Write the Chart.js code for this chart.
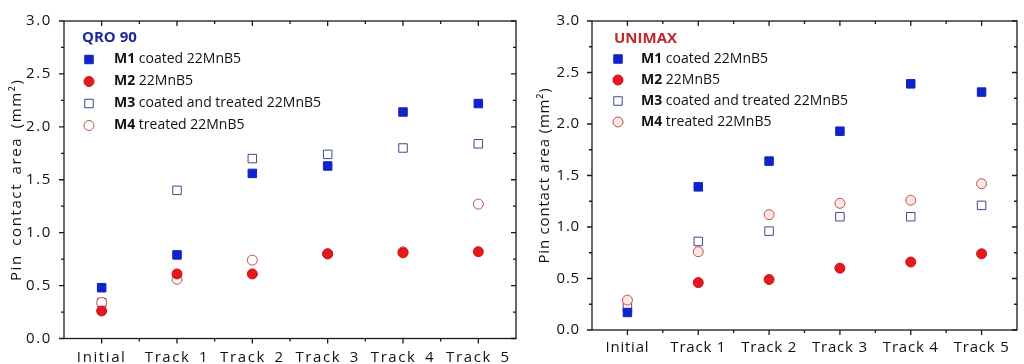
<!DOCTYPE html>
<html lang="en">
<head>
<meta charset="UTF-8">
<title>Pin contact area</title>
<script src="https://cdn.jsdelivr.net/npm/chart.js"></script>
<style>
  html, body { margin: 0; padding: 0; background: #fff; }
  #wrap { position: relative; width: 1024px; height: 364px; overflow: hidden; }
  .box { position: absolute; top: 0; height: 364px; }
  #boxL { left: 0; width: 528px; }
  #boxR { left: 528px; width: 496px; }
</style>
</head>
<body>
<div id="wrap">
  <div class="box" id="boxL"><canvas id="chartL"></canvas></div>
  <div class="box" id="boxR"><canvas id="chartR"></canvas></div>
</div>
<script>
const categories = ['Initial', 'Track 1', 'Track 2', 'Track 3', 'Track 4', 'Track 5'];
const seriesNames = ['M1', 'M2', 'M3', 'M4'];
const seriesDesc = ['coated 22MnB5', '22MnB5', 'coated and treated 22MnB5', 'treated 22MnB5'];

// QRO 90
const qroM1 = [0.48, 0.79, 1.56, 1.63, 2.14, 2.22];
const qroM2 = [0.26, 0.61, 0.61, 0.80, 0.81, 0.82];
const qroM3 = [0.34, 1.40, 1.70, 1.74, 1.80, 1.84];
const qroM4 = [0.34, 0.56, 0.74, 0.80, 0.82, 1.27];

// UNIMAX (M2 initial not visible in the figure)
const uniM1 = [0.17, 1.39, 1.64, 1.93, 2.39, 2.31];
const uniM2 = [null, 0.46, 0.49, 0.60, 0.66, 0.74];
const uniM3 = [0.22, 0.86, 0.96, 1.10, 1.10, 1.21];
const uniM4 = [0.29, 0.76, 1.12, 1.23, 1.26, 1.42];

const FONT = '"Open Sans", "Noto Sans", sans-serif';

function makeSets(m1, m2, m3, m4, openFill) {
  return [
    { label: 'M1', data: m1, pointStyle: 'rect', pointRadius: 6, backgroundColor: '#1023c9', borderColor: '#1023c9', borderWidth: 1, order: 1 },
    { label: 'M2', data: m2, pointStyle: 'circle', pointRadius: 5, backgroundColor: '#e3191e', borderColor: '#d01016', borderWidth: 1, order: 0 },
    { label: 'M3', data: m3, pointStyle: 'rect', pointRadius: 6, backgroundColor: '#ffffff', borderColor: '#3c4a8e', borderWidth: 1, order: 3 },
    { label: 'M4', data: m4, pointStyle: 'circle', pointRadius: 5, backgroundColor: openFill, borderColor: '#c0504d', borderWidth: 1, order: 2 }
  ].map(d => Object.assign(d, { showLine: false, pointHoverRadius: d.pointRadius }));
}

// letter / word spacing for axis text
const spacing = {
  id: 'spacing',
  beforeLayout(chart, args, opts) { chart.ctx.letterSpacing = opts.value; chart.ctx.wordSpacing = opts.word; },
  beforeDraw(chart, args, opts) { chart.ctx.letterSpacing = opts.value; chart.ctx.wordSpacing = opts.word; }
};

// box frame with ticks on all four sides
const frame = {
  id: 'frame',
  afterDraw(chart) {
    const ctx = chart.ctx, a = chart.chartArea;
    const xs = chart.scales.x, ys = chart.scales.y;
    ctx.save();
    ctx.strokeStyle = '#1a1a1a';
    ctx.lineWidth = 1.3;
    ctx.strokeRect(a.left, a.top, a.right - a.left, a.bottom - a.top);
    ctx.beginPath();
    const yv = ys.ticks.map(t => t.value);
    yv.forEach((v, i) => {
      const y = ys.getPixelForValue(v);
      ctx.moveTo(a.left - 5, y); ctx.lineTo(a.left, y);
      ctx.moveTo(a.right, y); ctx.lineTo(a.right - 5, y);
      if (i < yv.length - 1) {
        const ym = (y + ys.getPixelForValue(yv[i + 1])) / 2;
        ctx.moveTo(a.left - 3, ym); ctx.lineTo(a.left, ym);
        ctx.moveTo(a.right, ym); ctx.lineTo(a.right - 3, ym);
      }
    });
    categories.forEach((c, i) => {
      const x = xs.getPixelForValue(i);
      ctx.moveTo(x, a.bottom); ctx.lineTo(x, a.bottom + 5);
      ctx.moveTo(x, a.top); ctx.lineTo(x, a.top + 5);
      if (i < categories.length - 1) {
        const xm = (x + xs.getPixelForValue(i + 1)) / 2;
        ctx.moveTo(xm, a.bottom); ctx.lineTo(xm, a.bottom + 3);
        ctx.moveTo(xm, a.top); ctx.lineTo(xm, a.top + 3);
      }
    });
    ctx.stroke();
    ctx.restore();
  }
};

// legend inside the plot with bold series ids
const panelLegend = {
  id: 'panelLegend',
  afterDraw(chart, args, o) {
    const ctx = chart.ctx, a = chart.chartArea;
    ctx.save();
    ctx.letterSpacing = '0px';
    ctx.wordSpacing = '0px';
    ctx.textBaseline = 'middle';
    ctx.textAlign = 'left';
    ctx.font = 'bold 15px ' + FONT;
    ctx.fillStyle = o.titleColor;
    ctx.fillText(o.title, a.left + o.titleX, a.top + o.titleY);
    chart.data.datasets.forEach((ds, i) => {
      const y = a.top + o.rowY + i * o.rowGap;
      const x = a.left + o.markX;
      ctx.fillStyle = ds.backgroundColor;
      ctx.strokeStyle = ds.borderColor;
      ctx.lineWidth = ds.borderWidth;
      ctx.beginPath();
      if (ds.pointStyle === 'rect') {
        const s = ds.pointRadius * Math.SQRT1_2;
        ctx.rect(x - s, y - s, 2 * s, 2 * s);
      } else {
        ctx.arc(x, y, ds.pointRadius, 0, Math.PI * 2);
      }
      ctx.fill();
      ctx.stroke();
      const tx = a.left + o.textX;
      ctx.fillStyle = '#111';
      ctx.font = 'bold 14px ' + FONT;
      ctx.fillText(seriesNames[i], tx, y);
      const w = ctx.measureText(seriesNames[i] + ' ').width;
      ctx.font = '14px ' + FONT;
      ctx.fillText(seriesDesc[i], tx + w, y);
    });
    ctx.restore();
  }
};

function makeChart(id, sets, pad, xHeight, labelPad, letter, word, legendOpts) {
  return new Chart(document.getElementById(id), {
    type: 'line',
    data: { labels: categories, datasets: sets },
    options: {
      responsive: true,
      maintainAspectRatio: false,
      animation: false,
      layout: { padding: pad },
      plugins: {
        legend: { display: false },
        tooltip: { enabled: false },
        spacing: { value: letter, word: word },
        panelLegend: legendOpts
      },
      scales: {
        x: {
          type: 'category',
          offset: true,
          grid: { display: false, drawTicks: false },
          border: { display: false },
          ticks: { color: '#111', font: { family: FONT, size: 15 }, padding: labelPad, maxRotation: 0, autoSkip: false },
          afterFit(s) { s.height = xHeight; }
        },
        y: {
          min: 0,
          max: 3,
          grid: { display: false, drawTicks: false },
          border: { display: false },
          ticks: { stepSize: 0.5, color: '#111', font: { family: FONT, size: 15 }, padding: 12, callback: v => v.toFixed(1) },
          title: { display: true, text: 'Pin contact area (mm²)', color: '#111', font: { family: FONT, size: 15 }, padding: { top: 8, bottom: 0 } },
          afterFit(s) { s.width = 64; }
        }
      }
    },
    plugins: [spacing, frame, panelLegend]
  });
}

makeChart('chartL', makeSets(qroM1, qroM2, qroM3, qroM4, '#ffffff'),
  { top: 5, right: 12, left: 0, bottom: 0 }, 25.5, 10, '1.6px', '3px',
  { title: 'QRO 90', titleColor: '#1f2a9a', titleX: 18, titleY: 17, markX: 25, textX: 50, rowY: 38.5, rowGap: 22 });

makeChart('chartR', makeSets(uniM1, uniM2, uniM3, uniM4, '#fde6e3'),
  { top: 13, right: 2, left: 0, bottom: 0 }, 34, 9, '0.8px', '0px',
  { title: 'UNIMAX', titleColor: '#c0282d', titleX: 22, titleY: 18, markX: 26, textX: 49, rowY: 38, rowGap: 21 });
</script>
</body>
</html>
